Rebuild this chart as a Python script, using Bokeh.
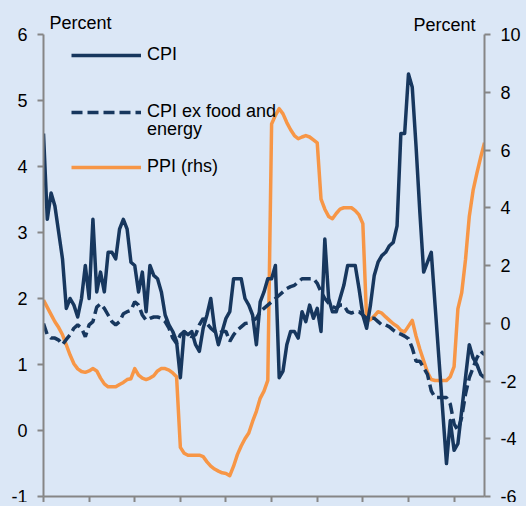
from bokeh.plotting import figure
from bokeh.models import Range1d, LinearAxis, Legend, LegendItem, Label, FixedTicker
from bokeh.embed import file_html
from bokeh.resources import INLINE

# ---- data (monthly, index 0..116) ----
months = list(range(117))

cpi = [4.5, 3.2, 3.6, 3.4, 3.0, 2.6, 1.85, 2.0, 1.9, 1.72,
       2.0, 2.5, 2.0, 3.2, 2.1, 2.4, 2.1, 2.7, 2.7, 2.6,
       3.05, 3.2, 3.05, 2.55, 2.5, 2.1, 2.4, 1.8, 2.5, 2.35,
       2.3, 2.1, 1.75, 1.6, 1.5, 1.35, 0.8, 1.5, 1.45, 1.5,
       1.3, 1.2, 1.55, 1.75, 2.0, 1.55, 1.3, 1.5, 1.7, 1.8,
       2.3, 2.3, 2.3, 2.0, 1.9, 1.75, 1.3, 1.95, 2.1, 2.3,
       2.3, 2.5, 0.8, 0.9, 1.3, 1.5, 1.5, 1.4, 1.8, 1.65,
       1.9, 1.7, 1.85, 1.5, 2.9, 2.0, 1.8, 1.8, 2.0, 2.2,
       2.5, 2.5, 2.5, 2.15, 1.75, 1.55, 1.9, 2.35, 2.55, 2.65,
       2.7, 2.8, 2.85, 3.1, 4.5, 4.5, 5.4, 5.2, 4.3, 3.3,
       2.4, 2.55, 2.7, 1.9, 1.1, 0.3, -0.5, 0.15, -0.3, -0.2,
       0.3, 0.8, 1.3, 1.1, 1.0, 0.85, 0.8]

cpi_core = [1.62, 1.45, 1.4, 1.4, 1.37, 1.3, 1.38, 1.45, 1.55, 1.6,
            1.55, 1.42, 1.6, 1.65, 1.87, 1.92, 1.85, 1.75, 1.65, 1.6,
            1.65, 1.77, 1.8, 1.82, 1.95, 1.9, 1.75, 1.67, 1.7, 1.72,
            1.72, 1.7, 1.65, 1.55, 1.4, 1.32, 1.45, 1.5, 1.45, 1.42,
            1.45, 1.6, 1.7, 1.62, 1.55, 1.5, 1.47, 1.5, 1.5, 1.35,
            1.45, 1.52, 1.57, 1.62, 1.63, 1.66, 1.7, 1.8, 1.85, 1.9,
            1.95, 2.0, 2.05, 2.1, 2.15, 2.18, 2.2, 2.25, 2.3, 2.3,
            2.3, 2.3, 2.23, 2.1, 2.0, 1.93, 1.88, 1.85, 1.9, 1.9,
            1.8, 1.78, 1.8, 1.8, 1.75, 1.7, 1.7, 1.7, 1.65, 1.6,
            1.6, 1.57, 1.52, 1.48, 1.46, 1.43, 1.39, 1.25, 1.05, 1.05,
            0.95, 0.85, 0.6, 0.5, 0.5, 0.5, 0.5, 0.4, 0.1, 0.0,
            0.2, 0.55, 0.8, 0.95, 1.1, 1.2, 1.15]

ppi = [0.8, 0.55, 0.3, 0.05, -0.15, -0.4, -0.75, -1.1, -1.4, -1.58,
       -1.67, -1.7, -1.65, -1.57, -1.65, -1.9, -2.1, -2.2, -2.2, -2.2,
       -2.12, -2.05, -1.95, -1.92, -1.57, -1.8, -1.9, -1.95, -1.9, -1.82,
       -1.65, -1.57, -1.57, -1.62, -1.72, -1.85, -4.3, -4.5, -4.57, -4.57,
       -4.57, -4.57, -4.62, -4.8, -4.95, -5.05, -5.12, -5.18, -5.2, -5.28,
       -4.95, -4.55, -4.25, -4.0, -3.8, -3.4, -3.05, -2.6, -2.35, -1.98,
       6.9, 7.2, 7.43, 7.25, 6.95, 6.7, 6.5, 6.39, 6.45, 6.5,
       6.45, 6.35, 6.25, 4.3, 3.95, 3.7, 3.62, 3.8, 3.95, 4.0,
       4.0, 4.0, 3.9, 3.75, 3.45, 0.1, 0.12, 0.25, 0.4, 0.35,
       0.22, 0.1, -0.02, -0.1, -0.25, -0.3, -0.1, 0.1, -0.45, -0.9,
       -1.3, -1.7, -1.95, -1.98, -1.98, -1.98, -1.98, -1.85, -1.5, 0.5,
       1.05, 2.2, 3.7, 4.6, 5.2, 5.75, 6.25]

x_ticks = [0, 12, 24, 36, 48, 60, 72, 84, 96, 108]
left_ticks = [-1, 0, 1, 2, 3, 4, 5, 6]
right_ticks = [-6, -4, -2, 0, 2, 4, 6, 8, 10]

BG = "#dbe7f6"
NAVY = "#17375e"
ORANGE = "#f79646"
AXIS = "#868686"
FONT = "Liberation Sans"
FS = "18px"

FH = 488  # frame height: axes span 462px, extra headroom for the unit labels
p = figure(frame_width=441, frame_height=FH,
           x_range=Range1d(0, 116), y_range=Range1d(-1, -1 + 7 * FH / 462),
           output_backend="svg", toolbar_location=None,
           min_border_left=0, min_border_top=0, min_border_right=0, min_border_bottom=0,
           background_fill_color=BG, border_fill_color=BG, outline_line_color=None)
p.extra_y_ranges = {"rhs": Range1d(-6, -6 + 16 * FH / 462)}
p.grid.visible = False

r_ppi = p.line(months, ppi, y_range_name="rhs", line_color=ORANGE, line_width=3.5, line_join="round")
r_core = p.line(months, cpi_core, line_color=NAVY, line_width=3.5, line_dash="11 5")
r_cpi = p.line(months, cpi, line_color=NAVY, line_width=3.5, line_join="round")
r_blank = p.line([], [], line_alpha=0)

raxis = LinearAxis(y_range_name="rhs", ticker=FixedTicker(ticks=right_ticks), bounds=(-6, 10))
raxis.major_label_overrides = {t: str(t) for t in right_ticks}
p.add_layout(raxis, "right")

p.yaxis[0].ticker = FixedTicker(ticks=left_ticks)
p.yaxis[0].bounds = (-1, 6)
p.yaxis[0].major_label_overrides = {t: str(t) for t in left_ticks}
p.xaxis.ticker = FixedTicker(ticks=x_ticks)
p.xaxis.major_label_overrides = {t: "" for t in x_ticks}
p.xaxis.major_label_standoff = 0

for ax in [p.xaxis[0], p.yaxis[0], raxis]:
    ax.axis_line_color = AXIS
    ax.axis_line_width = 2
    ax.major_tick_line_color = AXIS
    ax.major_tick_line_width = 2
    ax.major_tick_in = 0
    ax.major_tick_out = 6
    ax.minor_tick_line_color = None
    ax.major_label_text_font = FONT
    ax.major_label_text_color = "black"
for ax in [p.yaxis[0], raxis]:
    ax.major_label_text_font_size = FS
    ax.major_label_standoff = 10

# unit labels (screen units relative to the plot frame)
p.add_layout(Label(x=6, y=FH - 462 + 448, x_units="screen", y_units="screen", text="Percent",
                   text_baseline="middle", text_font=FONT, text_font_size=FS, text_color="black"))
p.add_layout(Label(x=432, y=FH - 462 + 446, x_units="screen", y_units="screen", text="Percent",
                   text_align="right", text_baseline="middle", text_font=FONT,
                   text_font_size=FS, text_color="black"))

common = dict(padding=0, margin=0, glyph_width=70, glyph_height=20, label_height=20,
              label_standoff=6, label_text_font=FONT, label_text_font_size=FS,
              label_text_color="black", background_fill_alpha=0, border_line_alpha=0)
legend1 = Legend(items=[LegendItem(label="CPI", renderers=[r_cpi]),
                        LegendItem(label="CPI ex food and", renderers=[r_core])],
                 location=(28, 374), spacing=36, **common)
legend2 = Legend(items=[LegendItem(label="energy", renderers=[r_blank]),
                        LegendItem(label="PPI (rhs)", renderers=[r_ppi])],
                 location=(28, 319), spacing=16, **common)
p.add_layout(legend1, "center")
p.add_layout(legend2, "center")

html = file_html(p, INLINE)
html = html.replace("</head>", "<style>html,body{background:%s;overflow:hidden}body{margin:8px 0 0 8px}</style></head>" % BG, 1)
open("out.html", "w").write(html)
